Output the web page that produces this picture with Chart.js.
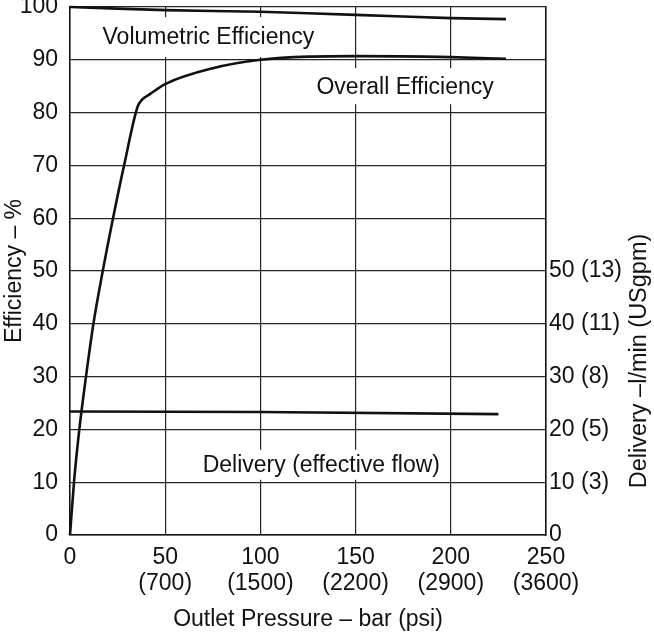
<!DOCTYPE html>
<html>
<head>
<meta charset="utf-8">
<script src="https://cdn.jsdelivr.net/npm/chart.js@4.4.1/dist/chart.umd.min.js"></script>
<style>
  body { margin: 0; background: #fff; }
</style>
</head>
<body>
<canvas id="pump-chart" width="654" height="636"></canvas>
<script>
// values
const volPressure = [0, 50, 100, 150, 200, 229];
const volEfficiency = [100, 99.4, 99.1, 98.5, 97.9, 97.7];

const overallPressure = [0, 2.1, 4.9, 8.4, 12.3, 17.2, 22.6, 28.4, 35.5, 38, 42, 50, 75, 100, 125, 150, 200, 229];
const overallEfficiency = [0, 10, 20, 30, 40, 50, 60, 70, 81.1, 82.5, 83.5, 85.4, 88.4, 90.0, 90.6, 90.7, 90.5, 90.2];

const deliveryPressure = [0, 100, 225];
const deliveryFlow = [23.4, 23.3, 22.9];

const barTicks = [0, 50, 100, 150, 200, 250];
const psiTicks = ['', '(700)', '(1500)', '(2200)', '(2900)', '(3600)'];
const flowTicks = [0, 10, 20, 30, 40, 50];
const usgpmTicks = ['', '(3)', '(5)', '(8)', '(11)', '(13)'];

const curveNames = ['Volumetric Efficiency', 'Overall Efficiency', 'Delivery (effective flow)'];

const FONT = "'Liberation Sans', Arial, sans-serif";
const INK = '#111';
const GRID = '#262626';

function pts(xs, ys) {
  return xs.map((x, i) => ({x: x, y: ys[i]}));
}

// labels sitting on white boxes inside the plot, plus the right axis title
const notes = {
  id: 'notes',
  beforeDatasetsDraw(chart) {
    const {ctx, scales} = chart;
    const spots = [
      {x: 72.7, y: 94.3, h: 20},
      {x: 176, y: 85.0, h: 18},
      {x: 132, y: 13.3, h: 15}
    ];
    ctx.save();
    ctx.font = '23px ' + FONT;
    ctx.textAlign = 'center';
    ctx.textBaseline = 'middle';
    spots.forEach((s, i) => {
      const px = scales.x.getPixelForValue(s.x);
      const py = scales.y.getPixelForValue(s.y);
      const w = ctx.measureText(curveNames[i]).width + 12;
      ctx.fillStyle = '#fff';
      ctx.fillRect(px - w / 2, py - s.h, w, s.h * 2);
      ctx.fillStyle = INK;
      ctx.fillText(curveNames[i], px, py + 1);
    });
    ctx.restore();
  },
  afterDraw(chart) {
    const ctx = chart.ctx;
    ctx.save();
    ctx.font = '23.5px ' + FONT;
    ctx.fillStyle = INK;
    ctx.textAlign = 'center';
    ctx.textBaseline = 'middle';
    ctx.translate(640, 361);
    ctx.rotate(-Math.PI / 2);
    ctx.fillText('Delivery \u2013l/min (USgpm)', 0, 0);
    ctx.restore();
  }
};

function noPad(scale) {
  scale.paddingTop = 0;
  scale.paddingBottom = 0;
  scale.paddingLeft = 0;
  scale.paddingRight = 0;
}

new Chart(document.getElementById('pump-chart'), {
  type: 'line',
  data: {
    datasets: [
      {
        label: curveNames[0],
        data: pts(volPressure, volEfficiency),
        yAxisID: 'y',
        borderColor: INK,
        borderWidth: 2.6,
        pointRadius: 0,
        tension: 0.3,
        clip: false
      },
      {
        label: curveNames[1],
        data: pts(overallPressure, overallEfficiency),
        yAxisID: 'y',
        borderColor: INK,
        borderWidth: 2.6,
        pointRadius: 0,
        cubicInterpolationMode: 'monotone',
        clip: false
      },
      {
        label: curveNames[2],
        data: pts(deliveryPressure, deliveryFlow),
        yAxisID: 'y1',
        borderColor: INK,
        borderWidth: 2.6,
        pointRadius: 0,
        clip: false
      }
    ]
  },
  options: {
    responsive: false,
    animation: false,
    layout: { padding: { top: 7, left: 0, right: 0, bottom: 0 } },
    plugins: {
      legend: { display: false },
      tooltip: { enabled: false }
    },
    scales: {
      x: {
        type: 'linear',
        min: 0,
        max: 250,
        afterBuildTicks: (scale) => { scale.ticks = barTicks.map(v => ({value: v})); },
        afterFit: (scale) => { scale.height = 101; noPad(scale); },
        grid: { color: GRID, lineWidth: 1.2, drawTicks: false },
        border: { color: INK, width: 1.5 },
        ticks: {
          padding: 9,
          color: INK,
          maxRotation: 0,
          autoSkip: false,
          font: { family: FONT, size: 23, lineHeight: 1.15 },
          callback: (v) => {
            const i = barTicks.indexOf(v);
            return psiTicks[i] ? [String(v), psiTicks[i]] : String(v);
          }
        },
        title: {
          display: true,
          text: 'Outlet Pressure \u2013 bar (psi)',
          color: INK,
          font: { family: FONT, size: 23, lineHeight: 1.15 },
          padding: { top: 0, bottom: 3 }
        }
      },
      y: {
        position: 'left',
        min: 0,
        max: 100,
        afterFit: (scale) => { scale.width = 70; noPad(scale); },
        grid: { color: GRID, lineWidth: 1.2, drawTicks: false },
        border: { color: INK, width: 1.5 },
        ticks: {
          stepSize: 10,
          padding: 12,
          color: INK,
          font: { family: FONT, size: 23 }
        },
        title: {
          display: true,
          text: 'Efficiency \u2013 %',
          color: INK,
          font: { family: FONT, size: 23, lineHeight: 1.15 },
          padding: { top: 1, bottom: 0 }
        }
      },
      y1: {
        position: 'right',
        min: 0,
        max: 100,
        afterFit: (scale) => { scale.width = 108; noPad(scale); },
        grid: { display: false, drawTicks: false },
        border: { color: INK, width: 1.5 },
        ticks: {
          stepSize: 10,
          padding: 3,
          color: INK,
          font: { family: FONT, size: 23 },
          callback: (v) => {
            const i = flowTicks.indexOf(v);
            if (i < 0) return null;
            return usgpmTicks[i] ? v + ' ' + usgpmTicks[i] : String(v);
          }
        }
      }
    }
  },
  plugins: [notes]
});
</script>
</body>
</html>
